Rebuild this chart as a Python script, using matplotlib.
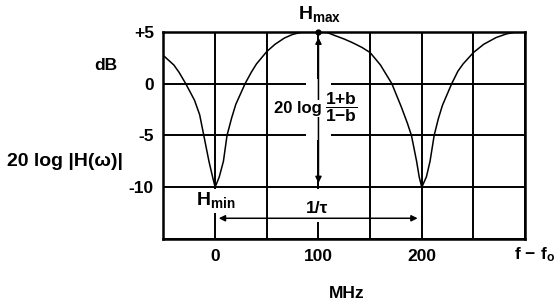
import numpy as np
import matplotlib
matplotlib.use("Agg")
import matplotlib.pyplot as plt
from matplotlib.patches import Rectangle

plt.rcParams['font.family'] = ['Liberation Sans', 'DejaVu Sans']
plt.rcParams['font.weight'] = 'bold'
plt.rcParams['mathtext.fontset'] = 'custom'
plt.rcParams['mathtext.rm'] = 'Liberation Sans:bold'
plt.rcParams['mathtext.it'] = 'Liberation Sans:bold'
plt.rcParams['mathtext.bf'] = 'Liberation Sans:bold'

# response (MHz offset, dB)
freq_mhz = [-50, -45, -40, -35, -28.5, -20, -15, -11, -6, -2.5, 0, 4, 8, 11.5, 16, 20,
            29, 35, 40, 50, 58, 67, 75, 83, 92, 100, 108, 117, 125, 133, 142, 150,
            160, 171, 180, 186, 190, 195, 197.5, 200, 204.5, 208, 212, 216, 220,
            229, 235, 240, 250, 260, 272, 282, 292, 300]
gain_db = [2.7, 2.25, 1.8, 1.1, 0.0, -1.6, -3.0, -5.0, -7.5, -9.0, -10.0, -9.0, -7.5, -5.0, -3.3, -2.0,
           0.0, 1.1, 1.9, 3.1, 3.8, 4.4, 4.75, 4.95, 5.0, 5.0, 4.95, 4.6, 4.3, 3.95, 3.5, 3.0,
           1.8, 0.0, -2.2, -3.8, -5.0, -7.5, -9.0, -10.0, -9.0, -7.5, -5.0, -3.4, -2.1,
           0.0, 1.2, 1.9, 3.0, 3.8, 4.45, 4.8, 5.0, 5.0]

x_ticks = [-50, 0, 50, 100, 150, 200, 250, 300]
x_tick_labels = ['', '0', '', '100', '', '200', '', '']
y_ticks = [-15, -10, -5, 0, 5]
y_tick_labels = ['', '-10', '-5', '0', '+5']

fig = plt.figure(figsize=(5.58, 3.06), dpi=100)
ax = fig.add_axes([0.293, 0.219, 0.648, 0.677])
ax.set_xlim(-50, 300)
ax.set_ylim(-15, 5)
ax.set_xticks(x_ticks, x_tick_labels)
ax.set_yticks(y_ticks, y_tick_labels)
ax.tick_params(length=0, labelsize=12.5, pad=7)
ax.grid(True, color='black', lw=1.4)
ax.set_axisbelow(True)
for s in ax.spines.values():
    s.set_linewidth(1.8)

# white gaps in the grid, as in the drawing
def blank(x0, x1, y0, y1):
    ax.add_patch(Rectangle((x0, y0), x1 - x0, y1 - y0, fc='white', ec='none', zorder=1))

blank(88, 112, -5.4, 0.4)
blank(-3, 3, -10.2, -12.5)
blank(97, 103, -10.2, -13.4)

ax.plot(freq_mhz, gain_db, color='black', lw=1.1, zorder=3)

g_max, g_min = max(gain_db), min(gain_db)
ax.plot([100], [g_max], 'o', color='black', ms=3.5, zorder=4, clip_on=False)

arrow = dict(arrowstyle='<|-|>', color='black', lw=1.1, shrinkA=0, shrinkB=0, mutation_scale=9)
ax.annotate('', xy=(100, g_min + 0.4), xytext=(100, g_max - 0.55), arrowprops=arrow, zorder=4)
ax.annotate('', xy=(196, -13.0), xytext=(3.5, -13.0), arrowprops=arrow, zorder=4)

ax.text(103, -2.4, '20 log', ha='right', va='center', fontsize=12,
        bbox=dict(fc='white', ec='none', pad=1.0), zorder=5)
ax.text(106, -2.3, r'$\dfrac{\mathrm{1{+}b}}{\mathrm{1{-}b}}$', ha='left', va='center', fontsize=12.5, zorder=5)
ax.text(101.5, 5.8, r'$\mathrm{H_{max}}$', ha='center', va='bottom', fontsize=14, clip_on=False)
ax.text(0.5, -10.3, r'$\mathrm{H_{min}}$', ha='center', va='top', fontsize=14, zorder=5)
ax.text(98.5, -11.3, '1/τ', ha='center', va='top', fontsize=12.5, zorder=5)

fig.text(106 / 558, 1 - 65 / 306, 'dB', ha='center', va='center', fontsize=12.5)
fig.text(7 / 558, 1 - 161.5 / 306, '20 log |H(ω)|', ha='left', va='center', fontsize=14)
fig.text(347 / 558, 1 - 293 / 306, 'MHz', ha='center', va='center', fontsize=12.5)
fig.text(514 / 558, 1 - 255 / 306, r'$\mathrm{f\ {-}\ f_o}$', ha='left', va='center', fontsize=12.5)

fig.savefig('out.png', dpi=100)
